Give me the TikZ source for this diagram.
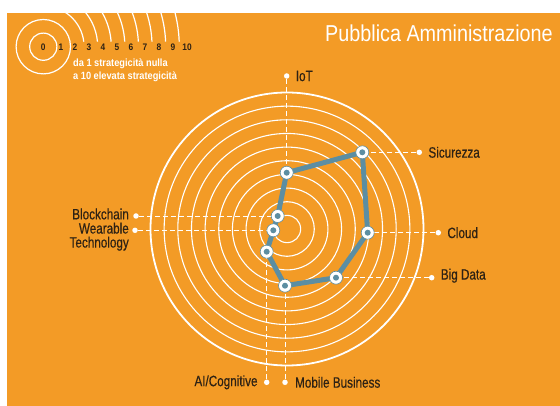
\documentclass[tikz,border=0pt]{standalone}
\usepackage{fontspec}
\setmainfont{Liberation Sans}[FakeStretch=0.9]
\newfontfamily\labelfont{Liberation Sans}[FakeStretch=0.78, FakeBold=0.4]
\newfontfamily\titlefont{Liberation Sans}[FakeStretch=0.86]
\newfontfamily\keyfont{Liberation Sans}[FakeStretch=0.88]
\usetikzlibrary{positioning}
\definecolor{paorange}{HTML}{F39B26}
\definecolor{padark}{HTML}{2E2214}
\definecolor{pablue}{HTML}{5C8EA2}

\tikzset{
  ring/.style={draw=white, line width=1.1pt},
  outerring/.style={draw=white, line width=1.8pt},
  keyring/.style={draw=white, line width=1.2pt},
  guide/.style={draw=white, line width=0.9pt, dash pattern=on 5pt off 3pt},
  score/.style={circle, fill=white, draw=pablue, line width=0.6pt,
    minimum size=13pt, inner sep=0pt,
    path picture={\fill[pablue] (path picture bounding box.center) circle (3pt);}},
  tipdot/.style={circle, fill=white, minimum size=5.5pt, inner sep=0pt},
  axlabel/.style={text=padark, font=\labelfont\fontsize{15}{14}\selectfont, inner sep=0pt},
  digit/.style={text=padark, font=\keyfont\fontsize{9.5}{12}\selectfont\bfseries,
    anchor=base, inner sep=0pt},
}

\begin{document}
\begin{tikzpicture}[x=1pt, y=-1pt]
  \useasboundingbox (0,0) rectangle (560,406);
  \fill[white] (0,0) rectangle (560,406);
  \fill[paorange] (7,13) rectangle (560,406);

  % legend
  \coordinate (lc) at (43.3,46.7);
  \begin{scope}
    \clip (7,13) rectangle (560,406);
    \draw[keyring] (lc) circle (13.6);
    \draw[keyring] (lc) circle (27.2);
    \foreach \k in {3,...,10}{
      \pgfmathsetmacro{\r}{13.6*\k}
      \draw[keyring] (lc) ++(-90:\r) arc[start angle=-90, end angle={-asin(5/\r)}, radius=\r];
    }
  \end{scope}
  \node[digit] (d0) at (43.3,50.7) {0};
  \foreach \k in {1,...,10}
    \node[digit] (d\k) at ({47+14*\k},50.7) {\k};
  \node[anchor=north west, align=left, text=white, inner sep=0pt,
    font=\keyfont\fontsize{10.5}{13.3}\selectfont\bfseries]
    (legend) at (73,58.3) {da 1 strategicità nulla\\a 10 elevata strategicità};

  \node[anchor=base west, text=white, inner sep=0pt,
    font=\titlefont\fontsize{23}{25}\selectfont]
    (title) at (325,41.7) {Pubblica Amministrazione};

  % rings
  \coordinate (c) at (287,229);
  \foreach \k in {1,...,9}
    \draw[ring] (c) circle ({13.65*\k});
  \draw[outerring] (c) circle (136.5);

  % scores
  \coordinate (pIoT)  at (286.7,172.7);
  \coordinate (pSic)  at (362.3,152.3);
  \coordinate (pCld)  at (367.7,232.7);
  \coordinate (pBig)  at (336,277.7);
  \coordinate (pMob)  at (285,285.7);
  \coordinate (pAI)   at (266.7,251.7);
  \coordinate (pWear) at (273.3,230.3);
  \coordinate (pBlk)  at (277.7,216);

  % label dots
  \node[tipdot] (tIoT)  at (286.7,76) {};
  \node[tipdot] (tSic)  at (419.3,152.3) {};
  \node[tipdot] (tCld)  at (438.3,232.7) {};
  \node[tipdot] (tBig)  at (431.7,277.7) {};
  \node[tipdot] (tMob)  at (285,382.3) {};
  \node[tipdot] (tAI)   at (266.7,382.3) {};
  \node[tipdot] (tWear) at (135,230.3) {};
  \node[tipdot] (tBlk)  at (136,216) {};

  \draw[guide] (tIoT) -- (pIoT);
  \draw[guide] (tSic) -- (pSic);
  \draw[guide] (tCld) -- (pCld);
  \draw[guide] (tBig) -- (pBig);
  \draw[guide] (tMob) -- (pMob);
  \draw[guide] (tAI) -- (pAI);
  \draw[guide] (tWear) -- (pWear);
  \draw[guide] (tBlk) -- (pBlk);

  \draw[pablue, line width=5pt, line join=round]
    (pIoT) -- (pSic) -- (pCld) -- (pBig) -- (pMob)
    -- (pAI) -- (pWear) -- (pBlk) -- cycle;

  \foreach \p in {pIoT,pSic,pCld,pBig,pMob,pAI,pWear,pBlk}
    \node[score] (s\p) at (\p) {};

  % labels
  \node[axlabel, right=6pt of tIoT] (lIoT) {IoT};
  \node[axlabel, right=6pt of tSic] (lSic) {Sicurezza};
  \node[axlabel, right=6pt of tCld] (lCld) {Cloud};
  \node[axlabel, right=6pt of tBig, yshift=2pt] (lBig) {Big Data};
  \node[axlabel, right=7pt of tMob] (lMob) {Mobile Business};
  \node[axlabel, left=6pt of tAI] (lAI) {AI/Cognitive};
  \node[axlabel, left=4pt of tBlk, yshift=2pt] (lBlk) {Blockchain};
  \node[axlabel, align=right, anchor=north east]
    (lWear) at (129,222.5) {Wearable\\Technology};
\end{tikzpicture}
\end{document}
